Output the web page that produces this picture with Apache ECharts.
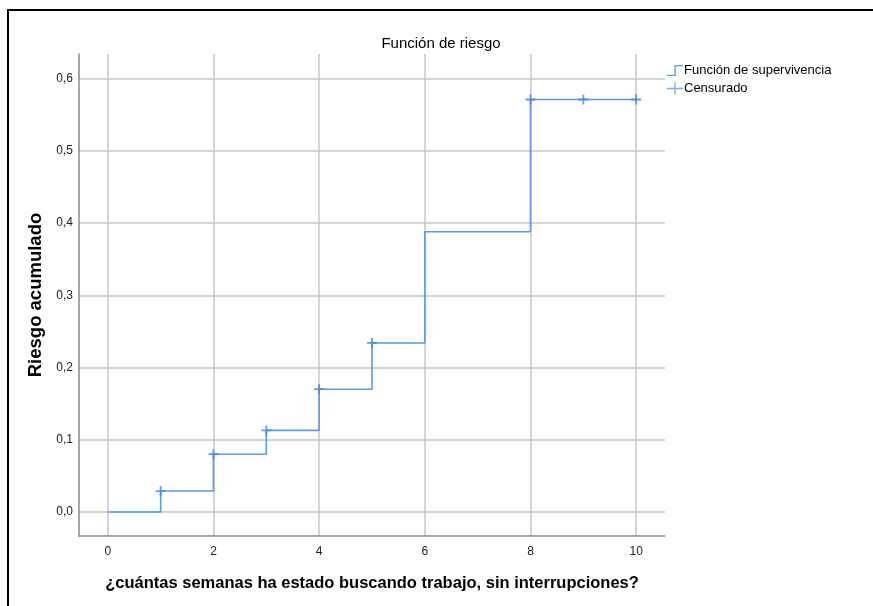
<!DOCTYPE html>
<html>
<head>
<meta charset="utf-8">
<script src="https://cdn.jsdelivr.net/npm/echarts@6/dist/echarts.min.js"></script>
<style>html,body{margin:0;padding:0;background:#fff}#c{width:873px;height:606px}</style>
</head>
<body>
<div id="c"></div>
<script>
// Data
const stepTimes = [0, 1, 2, 3, 4, 5, 6, 8, 10];
const stepHazard = [0, 0.029, 0.080, 0.113, 0.170, 0.234, 0.388, 0.571, 0.571];
const censoredTimes = [1, 2, 3, 4, 5, 8, 9, 10];
const censoredHazard = [0.029, 0.080, 0.113, 0.170, 0.234, 0.571, 0.571, 0.571];
const xTicks = [0, 2, 4, 6, 8, 10];
const yTicks = [0, 0.1, 0.2, 0.3, 0.4, 0.5, 0.6];
const titleText = 'Función de riesgo';
const xName = '¿cuántas semanas ha estado buscando trabajo, sin interrupciones?';
const yName = 'Riesgo acumulado';
const seriesNames = ['Función de supervivencia', 'Censurado'];

const FONT = "'Liberation Sans', Arial, sans-serif";
const LINE = '#5b9ae8';
const MARK = '#3f83e0';
const plusPath = 'path://M0,4.1H10V5.9H0Z M4.1,0H5.9V10H4.1Z';

const chart = echarts.init(document.getElementById('c'), null, {renderer: 'canvas'});
chart.setOption({
  animation: false,
  backgroundColor: '#fff',
  title: {
    text: titleText, left: 436, top: 31, textAlign: 'center',
    textStyle: {fontFamily: FONT, fontSize: 15, fontWeight: 'normal', color: '#000'}
  },
  graphic: [{
    type: 'rect', shape: {x: 8, y: 10, width: 900, height: 700},
    style: {fill: 'none', stroke: '#000', lineWidth: 2}, silent: true
  }],
  legend: {
    orient: 'vertical', left: 662, top: 59, itemGap: 5, itemWidth: 16, itemHeight: 12,
    textStyle: {fontFamily: FONT, fontSize: 13, color: '#000', padding: [0,0,0,-4]},
    data: [
      {name: seriesNames[0], icon: 'path://M0,10.8H7.4V1H16V2.4H8.8V12.2H0Z', itemStyle: {color: LINE}},
      {name: seriesNames[1], icon: 'path://M0,5.3H7.3V0H8.7V5.3H16V6.7H8.7V12H7.3V6.7H0Z', itemStyle: {color: LINE}}
    ]
  },
  grid: {left: 79, top: 54, right: 208, bottom: 70, containLabel: false},
  xAxis: {
    type: 'value', min: -0.545, max: 10.545,
    name: xName, nameLocation: 'middle', nameGap: 39,
    nameTextStyle: {fontFamily: FONT, fontSize: 16.5, fontWeight: 'bold', color: '#000'},
    axisLine: {show: true, onZero: false, lineStyle: {color: '#8a8a8a', width: 1.5}},
    axisTick: {show: false, customValues: xTicks},
    axisLabel: {customValues: xTicks, fontFamily: FONT, fontSize: 12, color: '#222', margin: 10,
      formatter: v => String(v)},
    splitLine: {show: true, lineStyle: {color: '#c6c6c6', width: 1.5}}
  },
  yAxis: {
    type: 'value', min: -0.0332, max: 0.634,
    name: yName, nameLocation: 'middle', nameGap: 34, nameRotate: 90,
    nameTextStyle: {fontFamily: FONT, fontSize: 18.5, fontWeight: 'bold', color: '#000'},
    axisLine: {show: true, onZero: false, lineStyle: {color: '#8a8a8a', width: 1.5}},
    axisTick: {show: false, customValues: yTicks},
    axisLabel: {customValues: yTicks, fontFamily: FONT, fontSize: 12, color: '#222', margin: 6,
      formatter: v => v.toFixed(1).replace('.', ',')},
    splitLine: {show: true, lineStyle: {color: '#c6c6c6', width: 1.5}}
  },
  series: [
    {
      name: seriesNames[0], type: 'line', step: 'end', showSymbol: false, symbol: 'none',
      data: stepTimes.map((t, i) => [t, stepHazard[i]]),
      lineStyle: {color: LINE, width: 1.6}, itemStyle: {color: LINE}, z: 3
    },
    {
      name: seriesNames[1], type: 'scatter', symbol: plusPath, symbolSize: 10,
      data: censoredTimes.map((t, i) => [t, censoredHazard[i]]),
      itemStyle: {color: MARK}, z: 4
    }
  ]
});
</script>
</body>
</html>
